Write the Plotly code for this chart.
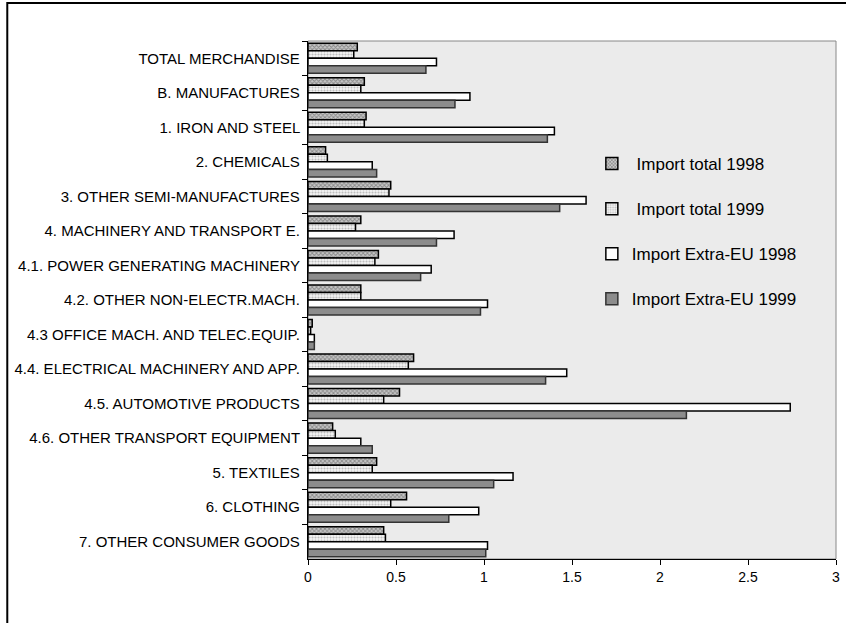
import plotly.graph_objects as go

categories = [
    "TOTAL MERCHANDISE",
    "B. MANUFACTURES",
    "1. IRON AND STEEL",
    "2. CHEMICALS",
    "3. OTHER SEMI-MANUFACTURES",
    "4. MACHINERY AND TRANSPORT E.",
    "4.1. POWER GENERATING MACHINERY",
    "4.2. OTHER NON-ELECTR.MACH.",
    "4.3 OFFICE MACH. AND TELEC.EQUIP.",
    "4.4. ELECTRICAL MACHINERY AND APP.",
    "4.5. AUTOMOTIVE PRODUCTS",
    "4.6. OTHER TRANSPORT EQUIPMENT",
    "5. TEXTILES",
    "6. CLOTHING",
    "7. OTHER CONSUMER GOODS",
]

import_total_1998 = [0.28, 0.32, 0.33, 0.10, 0.47, 0.30, 0.40, 0.30, 0.024, 0.60, 0.52, 0.14, 0.39, 0.56, 0.43]
import_total_1999 = [0.26, 0.30, 0.32, 0.11, 0.46, 0.27, 0.38, 0.30, 0.015, 0.57, 0.43, 0.155, 0.365, 0.47, 0.44]
import_extra_eu_1998 = [0.73, 0.92, 1.40, 0.365, 1.58, 0.83, 0.70, 1.02, 0.036, 1.47, 2.74, 0.30, 1.165, 0.97, 1.02]
import_extra_eu_1999 = [0.67, 0.835, 1.36, 0.39, 1.43, 0.73, 0.64, 0.98, 0.036, 1.35, 2.15, 0.365, 1.055, 0.80, 1.01]

series_names = [" Import total 1998", " Import total 1999", "Import Extra-EU 1998", "Import Extra-EU 1999"]

fig = go.Figure()

line = dict(color="#000000", width=1.5)

fig.add_trace(go.Bar(
    y=categories, x=import_total_1998, orientation="h", name=series_names[0],
    marker=dict(color="#ffffff", line=line,
                pattern=dict(shape="x", fgcolor="#4a4a4a", bgcolor="#c8c8c8", size=3, solidity=0.5)),
    legendgroup="a",
))
fig.add_trace(go.Bar(
    y=categories, x=import_total_1999, orientation="h", name=series_names[1],
    marker=dict(color="#ffffff", line=line,
                pattern=dict(shape=".", fgcolor="#888888", bgcolor="#f4f4f4", size=3, solidity=0.4)),
    legendgroup="b",
))
fig.add_trace(go.Bar(
    y=categories, x=import_extra_eu_1998, orientation="h", name=series_names[2],
    marker=dict(color="#ffffff", line=line),
    legendgroup="c",
))
fig.add_trace(go.Bar(
    y=categories, x=import_extra_eu_1999, orientation="h", name=series_names[3],
    marker=dict(color="#8c8c8c", line=dict(color="#333333", width=1.5)),
    legendgroup="d",
))

L, R, T, B = 308, 6, 41, 64
W, H = 846, 623
pw = W - L - R
ph = H - T - B

fig.update_layout(
    width=W, height=H,
    margin=dict(l=L, r=R, t=T, b=B, pad=0),
    barmode="group",
    bargap=0.13,
    bargroupgap=0,
    paper_bgcolor="#ffffff",
    plot_bgcolor="#ebebeb",
    font=dict(family="Liberation Sans, Arial, sans-serif", size=15, color="#000000"),
    legend=dict(
        x=(594 - L) / pw, y=(H - B - 146) / ph, xanchor="left", yanchor="top",
        bgcolor="rgba(0,0,0,0)", font=dict(size=17),
        tracegroupgap=20, traceorder="grouped",
        itemwidth=30,
    ),
    showlegend=True,
)

fig.update_yaxes(
    type="category", autorange="reversed",
    showline=True, linecolor="#000000", linewidth=1,
    ticks="outside", ticklen=5, tickcolor="#000000", tickson="boundaries",
    showgrid=False, mirror=False, tickfont=dict(size=15),
    ticksuffix=" ",
)
fig.update_xaxes(
    range=[0, 3], tickvals=[0, 0.5, 1, 1.5, 2, 2.5, 3],
    ticktext=["0", "0.5", "1", "1.5", "2", "2.5", "3"],
    showline=True, linecolor="#000000", linewidth=1,
    ticks="outside", ticklen=5, tickcolor="#000000",
    showgrid=False, zeroline=False, tickfont=dict(size=14),
)

# plot area border (grey, top and right)
fig.add_shape(type="rect", xref="paper", yref="paper", x0=0, x1=1, y0=0, y1=1,
              line=dict(color="#888888", width=1), layer="below")

# outer chart frame
fig.add_shape(type="rect", xref="paper", yref="paper",
              x0=(5 - L) / pw, x1=(W + 20 - L) / pw,
              y0=(H - B - (H + 20)) / ph, y1=(H - B - 3) / ph,
              line=dict(color="#000000", width=2), fillcolor="rgba(0,0,0,0)")

fig.write_html("out.html")
